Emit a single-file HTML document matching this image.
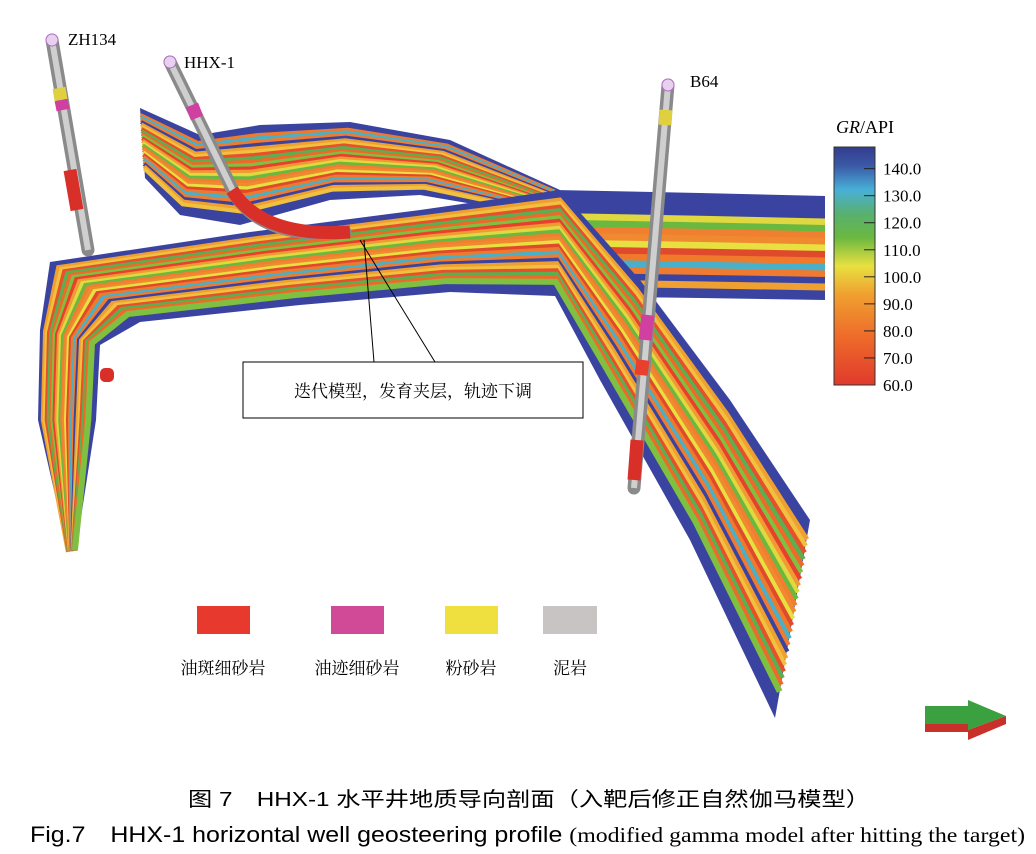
<!DOCTYPE html>
<html><head><meta charset="utf-8"><style>
body{margin:0;background:#fff;width:1036px;height:854px;overflow:hidden}
svg{position:absolute;left:0;top:0}
</style></head><body>
<svg width="1036" height="854" xmlns="http://www.w3.org/2000/svg">
<defs>
<linearGradient id="cb" x1="0" y1="1" x2="0" y2="0">
<stop offset="0" stop-color="#e03a2c"/><stop offset="0.2" stop-color="#ee6a2a"/><stop offset="0.38" stop-color="#f0a030"/>
<stop offset="0.5" stop-color="#e8e040"/><stop offset="0.62" stop-color="#6ab840"/><stop offset="0.72" stop-color="#58b070"/>
<stop offset="0.82" stop-color="#48b0d8"/><stop offset="0.92" stop-color="#3a5aa8"/><stop offset="1" stop-color="#343c8c"/>
</linearGradient>
</defs>
<g id="layers"></g>
<g id="wells"></g>
<g>
<line x1="364" y1="240" x2="374" y2="362" stroke="#000" stroke-width="1"/>
<line x1="360" y1="240" x2="435" y2="362" stroke="#000" stroke-width="1"/>
<rect x="243" y="362" width="340" height="56" fill="#fff" stroke="#000" stroke-width="1"/>
<text x="413" y="397" text-anchor="middle" font-family="Liberation Serif,'Noto Serif CJK SC',serif" font-size="17">迭代模型，发育夹层，轨迹下调</text>
</g>
<g>
<text x="836" y="133" font-family="Liberation Serif,serif" font-size="18"><tspan font-style="italic">GR</tspan>/API</text>
<rect x="834" y="147" width="41" height="238" fill="url(#cb)" stroke="#333" stroke-width="1"/>
<g id="cbticks"></g>
</g>
<g font-family="Liberation Serif,'Noto Serif CJK SC',serif" font-size="17">
<rect x="197" y="606" width="53" height="28" fill="#e8392e"/>
<text x="223" y="674" text-anchor="middle">油斑细砂岩</text>
<rect x="331" y="606" width="53" height="28" fill="#d04a98"/>
<text x="357" y="674" text-anchor="middle">油迹细砂岩</text>
<rect x="445" y="606" width="53" height="28" fill="#efe040"/>
<text x="471" y="674" text-anchor="middle">粉砂岩</text>
<rect x="543" y="606" width="54" height="28" fill="#c8c4c4"/>
<text x="570" y="674" text-anchor="middle">泥岩</text>
</g>
<g>
<polygon points="925,706 968,706 968,700 1006,716 968,730 968,724 925,724" fill="#3aa040"/>
<polygon points="925,724 968,724 968,730 1006,716 1006,724 968,740 968,732 925,732" fill="#c8302a"/>
</g>
<text x="188" y="806" textLength="682" lengthAdjust="spacingAndGlyphs" font-family="Liberation Sans,'Noto Sans CJK SC',sans-serif" font-size="20">图 7　HHX-1 水平井地质导向剖面（入靶后修正自然伽马模型）</text>
<text x="30" y="842" textLength="995" lengthAdjust="spacingAndGlyphs" font-family="Liberation Sans,sans-serif" font-size="22">Fig.7　HHX-1 horizontal well geosteering profile <tspan font-family="Liberation Serif,serif" font-size="21">(modified gamma model after hitting the target)</tspan></text>
</svg>
<script>
const NS='http://www.w3.org/2000/svg';
const cbTicks=[140,130,120,110,100,90,80,70,60];
const cbMin=60, cbMax=148;
function cbY(v){return 385-(v-cbMin)/(cbMax-cbMin)*238;}
const tg=document.getElementById('cbticks');
cbTicks.forEach(v=>{
  const y=cbY(v);
  if(v>60){const l=document.createElementNS(NS,'line');
  
  
  l.setAttribute('x1',864);l.setAttribute('x2',875);l.setAttribute('y1',y);l.setAttribute('y2',y);l.setAttribute('stroke','#222');tg.appendChild(l);}
  const t=document.createElementNS(NS,'text');
  
  
  t.setAttribute('x',883);t.setAttribute('y',y+6);t.setAttribute('font-family','Liberation Serif,serif');t.setAttribute('font-size','17');
  t.textContent=v.toFixed(1);tg.appendChild(t);
});
const ribbons=[
 {name:'back-band',e:[[140,108,145,178],[200,135,180,215],[260,125,240,225],[350,122,330,200],[450,140,420,195],[560,190,520,212]]},
 {name:'right-band',e:[[555,190,555,296],[700,193,700,298],[825,196,825,300]]},
 {name:'main-band',e:[[68,552,76,550],[38,420,96,420],[40,330,100,345],[50,262,140,322],[250,232,300,305],[420,210,450,292],[560,190,555,296],[640,280,600,380],[730,400,690,540],[810,520,775,718]]}
];
const pal=['#f08a30','#e8402c','#f0c040','#f07a2c','#6ab840','#ee6a2a','#3a44a0','#e8e040','#f09a34','#e8502c','#48b0c8','#f08030','#80c040','#f0a030','#e04a2c','#e0d840','#5ab050','#f07a30'];
const lg=document.getElementById('layers');
function lerp(a,b,t){return a+(b-a)*t;}
ribbons.forEach((r,ri)=>{
  const g=document.createElementNS(NS,'g');
  
  
  const top=r.e.map(p=>p[0]+','+p[1]).join(' ');
  const bot=r.e.slice().reverse().map(p=>p[2]+','+p[3]).join(' ');
  const poly=document.createElementNS(NS,'polygon');
  
  
  poly.setAttribute('points',top+' '+bot);poly.setAttribute('fill','#3a44a0');g.appendChild(poly);
  const n=ri==1?16:30;
  const lo=ri==1?4:3, hi=ri==1?n-1:n-3;
  for(let i=lo;i<hi;i++){
    const t=i/n;
    let c=pal[(i*7+ri*5)%pal.length];
    const pts=r.e.map(p=>lerp(p[0],p[2],t)+','+lerp(p[1],p[3],t)).join(' ');
    const pl=document.createElementNS(NS,'polyline');
    
    
    pl.setAttribute('points',pts);pl.setAttribute('fill','none');pl.setAttribute('stroke',c);
    pl.setAttribute('stroke-width',ri==1?7:(ri==2?6:4));g.appendChild(pl);
  }
  lg.appendChild(g);
});
const wg=document.getElementById('wells');
function well(name,d,segs,label,lx,ly){
  const g=document.createElementNS(NS,'g');
  
  
  const p=document.createElementNS(NS,'path');
  p.setAttribute('d',d);p.setAttribute('fill','none');p.setAttribute('stroke','#8a8a8a');p.setAttribute('stroke-width',13);p.setAttribute('stroke-linecap','round');g.appendChild(p);
  const p2=document.createElementNS(NS,'path');
  p2.setAttribute('d',d);p2.setAttribute('fill','none');p2.setAttribute('stroke','#cfcfcf');p2.setAttribute('stroke-width',6);g.appendChild(p2);
  segs.forEach(s=>{const q=document.createElementNS(NS,'path');q.setAttribute('d',s[0]);q.setAttribute('fill','none');q.setAttribute('stroke',s[1]);q.setAttribute('stroke-width',13);g.appendChild(q);});
  const m=d.match(/M\s*([\d.]+)[ ,]([\d.]+)/);
  const c=document.createElementNS(NS,'circle');c.setAttribute('cx',m[1]);c.setAttribute('cy',m[2]);c.setAttribute('r',6);c.setAttribute('fill','#e8d0f0');c.setAttribute('stroke','#b070c0');g.appendChild(c);
  const t=document.createElementNS(NS,'text');
  
  
  t.setAttribute('x',lx);t.setAttribute('y',ly);t.setAttribute('font-family','Liberation Serif,serif');t.setAttribute('font-size','17');t.textContent=label;g.appendChild(t);
  wg.appendChild(g);
}
well('well-zh134','M52,40 L88,250',[['M59,88 L61,100','#e0d040'],['M61,100 L63,110','#d040a0'],['M70,170 L77,210','#d83028']],'ZH134',68,45);
well('well-b64','M668,85 L634,488',[['M666,110 L665,125','#e0d040'],['M648,315 L645,340','#d040a0'],['M643,360 L641,375','#e8402c'],['M637,440 L634,480','#d83028']],'B64',690,87);
well('well-hhx1','M170,62 L235,195 Q265,240 345,232',[['M192,105 L197,118','#d040a0'],['M232,190 Q262,238 350,232','#d83028']],'HHX-1',184,68);
const st=document.createElementNS(NS,'rect');


st.setAttribute('x',100);st.setAttribute('y',368);st.setAttribute('width',14);st.setAttribute('height',14);st.setAttribute('rx',5);st.setAttribute('fill','#d83028');wg.appendChild(st);
</script>
</body></html>
